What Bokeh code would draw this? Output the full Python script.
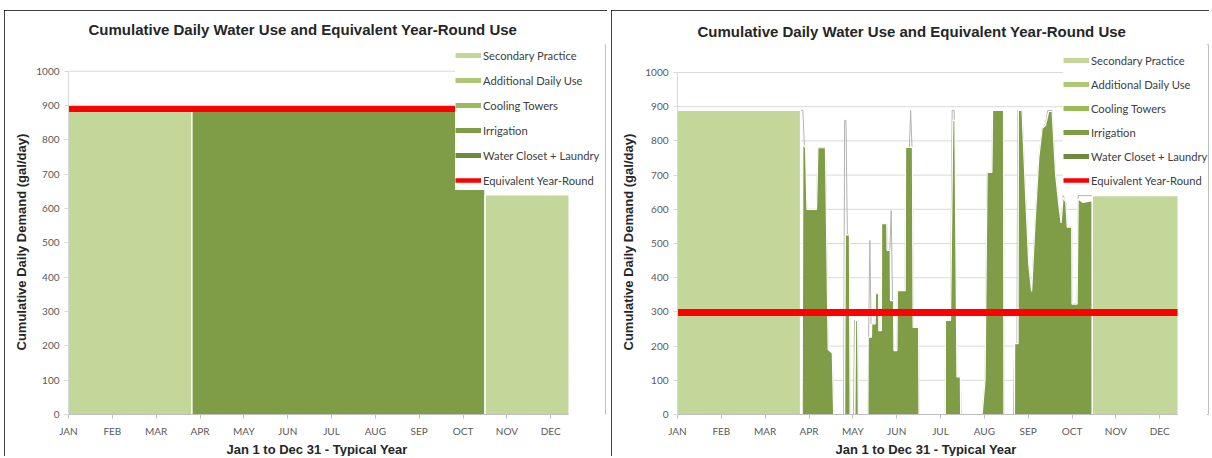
import numpy as np
from bokeh.plotting import figure
from bokeh.layouts import row
from bokeh.models import Range1d, FixedTicker, Legend, LegendItem, Title
from bokeh.embed import file_html
from bokeh.resources import INLINE

TITLE = "Cumulative Daily Water Use and Equivalent Year-Round Use"
X_TITLE = "Jan 1 to Dec 31 - Typical Year"
Y_TITLE = "Cumulative Daily Demand (gal/day)"

MONTHS = ["JAN", "FEB", "MAR", "APR", "MAY", "JUN", "JUL", "AUG", "SEP", "OCT", "NOV", "DEC"]
MONTH_LABEL_DAYS = [0, 32, 64, 96, 128, 160, 192, 224, 256, 288, 320, 352]
Y_TICKS = [0, 100, 200, 300, 400, 500, 600, 700, 800, 900, 1000]
DAYS_IN_YEAR = 365
Y_MAX = 1000

SERIES = ["Secondary Practice", "Additional Daily Use", "Cooling Towers",
          "Irrigation", "Water Closet + Laundry", "Equivalent Year-Round"]
SERIES_COLORS = ["#c4d79b", "#adc774", "#9bbb59", "#7f9d46", "#6e8a3d", "#ff0000"]

# ---------------- left chart: (day, gal/day) vertices ----------------
left_secondary = [(0, 889), (90, 889), (90, 0), (304, 0), (304, 640), (365, 640)]
left_additional = [(0, 0), (365, 0)]
left_cooling = [(0, 0), (365, 0)]
left_irrigation = [(90, 0), (90, 889), (304, 889), (304, 0)]
left_closet = [(0, 0), (365, 0)]
left_equivalent = 890

# ---------------- right chart: (day, gal/day) vertices ----------------
right_secondary = [(0, 889), (89.8, 889), (89.8, 0), (302.8, 0), (302.8, 640), (365, 640)]
right_additional = [(0, 0), (365, 0)]
right_cooling = [(0, 0), (365, 0)]
right_irrigation = [
    (91, 0), (91.5, 790), (93.5, 780), (94.5, 600), (101.5, 600), (102.5, 780), (108, 780),
    (110, 190), (113, 180), (114, 0),
    (122, 0), (122.5, 525), (125.5, 525), (126, 0),
    (129.5, 0), (130, 275), (131.5, 275), (132, 0),
    (139, 0), (139.2, 226), (141.6, 226), (141.8, 265), (144.3, 265), (144.5, 353), (146.8, 353),
    (147, 245), (148.8, 245), (149, 558), (152.8, 558), (153, 480), (155.3, 480), (155.5, 333),
    (157.7, 333), (158, 187), (160.2, 187), (160.5, 362), (166.2, 362), (166.5, 781), (171.5, 781),
    (172, 255), (176, 255), (176.3, 0),
    (195.5, 0), (195.6, 275), (199.3, 275), (201, 860), (202.5, 860), (204, 110), (206.5, 110), (206.7, 0),
    (222.4, 0), (224.5, 100), (226, 708), (229.5, 708), (230, 889), (238, 889), (238.3, 0),
    (246, 0), (246.1, 207), (248.6, 207), (248.8, 889), (251.5, 889), (254, 653), (256.4, 440),
    (258.5, 360), (261, 560), (263.7, 749), (266.2, 837), (268.6, 845), (271, 886), (273.5, 886),
    (276, 703), (278.3, 615), (280, 560), (281.5, 635), (283.5, 620), (284.5, 548), (287.8, 548),
    (288, 323), (291.7, 323), (292.5, 630), (296, 620), (302.7, 625), (302.8, 0),
]
right_closet = [(0, 0), (365, 0)]
right_outline = [
    (89.8, 889), (91.5, 889), (92.5, 800), (94.5, 600), (101.5, 600), (102.5, 780), (108, 780),
    (110, 190), (113, 180), (114, 0),
    (121.3, 0), (122, 860), (123, 860), (124, 525), (125.5, 525), (126, 0),
    (128.5, 0), (129.2, 275), (131.5, 275), (132, 0),
    (139, 0), (139.5, 226), (140.4, 509), (141.3, 265), (144.3, 265), (144.5, 353), (146.8, 353),
    (147, 245), (148.8, 245), (149, 558), (152.8, 558), (153, 480), (155, 480), (156, 596),
    (157.5, 187), (160.2, 187), (160.5, 362), (166.2, 362), (166.5, 781), (169.3, 781),
    (170.2, 889), (171.2, 781), (171.5, 781), (172, 255), (176, 255), (176.3, 0),
    (195.5, 0), (195.6, 275), (199.3, 275), (200.5, 889), (202, 889), (203.5, 300), (204, 110),
    (206.5, 110), (207, 0),
    (222.4, 0), (224.5, 100), (226, 708), (229.5, 708), (230, 889), (238, 889), (238.3, 0),
    (245.3, 0), (246.1, 207), (247.8, 207), (248.4, 889), (251.5, 889), (254, 653), (256.4, 440),
    (258.5, 360), (261, 560), (263.7, 749), (266.2, 837), (268.6, 850), (270.3, 889), (273.5, 889),
    (276, 703), (278.3, 615), (280, 560), (281.5, 640), (283.5, 620), (284.5, 548), (287.8, 548),
    (288, 323), (291.7, 323), (292.5, 640), (296, 640), (302.8, 640),
]
right_equivalent = 298


def split(points):
    return [a for a, _ in points], [b for _, b in points]


def make_panel(areas, outline, equivalent, red_width, width, mb_left, mb_right, mb_top,
               plot_w, plot_h, legend_xy, legend_spacing, title_valign, ytitle_standoff):
    height = 448
    mb_bottom = 44
    frame_w = width - mb_left - mb_right
    frame_h = height - mb_top - mb_bottom
    # the frame is a bit larger than the axis box so that the legend may overlap it
    x_end = DAYS_IN_YEAR * frame_w / plot_w
    y_end = Y_MAX * frame_h / plot_h
    p = figure(width=width, height=height, x_range=Range1d(0, x_end), y_range=Range1d(0, y_end),
               output_backend="svg", toolbar_location=None,
               min_border_left=mb_left, min_border_right=mb_right,
               min_border_top=mb_top, min_border_bottom=mb_bottom)
    p.styles = {"outline": "2px solid #000000", "outline-offset": "-2px",
                "clip-path": "inset(0px 0px 2px 0px)"}
    p.background_fill_color = "white"
    p.border_fill_color = "white"
    p.outline_line_color = None

    p.title.text = TITLE
    p.title.text_font = "Liberation Sans"
    p.title.text_font_style = "bold"
    p.title.text_font_size = "15px"
    p.title.text_color = "#262626"
    p.title.align = "left"
    p.title.offset = 20
    p.title.vertical_align = title_valign

    # grid (drawn only across the axis box)
    p.xgrid.visible = False
    p.ygrid.visible = False
    p.segment(x0=[0] * len(Y_TICKS), y0=Y_TICKS, x1=[DAYS_IN_YEAR] * len(Y_TICKS), y1=Y_TICKS,
              line_color="#d9d9d9", line_width=1, level="underlay")

    # axes
    p.xaxis.ticker = FixedTicker(ticks=MONTH_LABEL_DAYS)
    p.xaxis.major_label_overrides = {d: m for d, m in zip(MONTH_LABEL_DAYS, MONTHS)}
    p.yaxis.ticker = FixedTicker(ticks=Y_TICKS)
    p.xaxis.bounds = (0, DAYS_IN_YEAR)
    p.yaxis.bounds = (0, Y_MAX)
    for ax in (p.xaxis, p.yaxis):
        ax.axis_line_color = "#bfbfbf"
        ax.major_tick_line_color = "#bfbfbf"
        ax.major_tick_out = 4
        ax.major_tick_in = 0
        ax.minor_tick_line_color = None
        ax.major_label_text_font = "Lato"
        ax.major_label_text_font_size = "10px"
        ax.major_label_text_color = "#595959"
    p.yaxis.axis_line_color = "#d9d9d9"
    p.yaxis.major_tick_line_color = "#d9d9d9"
    p.xaxis.major_label_standoff = 6
    p.yaxis.major_label_standoff = 5

    # axis titles (as side titles, positioned along the axis box)
    xt = Title(text=X_TITLE, align="left", offset=158, text_font="Liberation Sans",
               text_font_style="bold", text_font_size="13px", text_color="#262626", standoff=0)
    p.add_layout(xt, "below")
    yt = Title(text=Y_TITLE, align="left", offset=64, text_font="Liberation Sans",
               text_font_style="bold", text_font_size="13px", text_color="#262626",
               standoff=ytitle_standoff)
    p.add_layout(yt, "left")

    # grey daily outline (behind)
    if outline is not None:
        ox, oy = split(outline)
        p.line(ox, oy, line_color="#b3b3b3", line_width=1)

    # stacked areas
    order = [4, 3, 2, 1, 0]
    for i in order:
        xs, ys = split(areas[i])
        p.varea(x=xs, y1=0, y2=ys, fill_color=SERIES_COLORS[i])
    for i in order:
        xs, ys = split(areas[i])
        if max(ys) > 0:
            p.line(xs, ys, line_color="white", line_width=1.2)

    # equivalent year-round line
    p.line([0, DAYS_IN_YEAR], [equivalent, equivalent], line_color=SERIES_COLORS[5],
           line_width=red_width)

    # legend (proxy swatches)
    items = []
    for name, color in zip(SERIES, SERIES_COLORS):
        lw = 4.5 if name == "Equivalent Year-Round" else 5
        r = p.line(x=np.array([np.nan]), y=np.array([np.nan]), line_color=color, line_width=lw)
        items.append(LegendItem(label=name, renderers=[r]))
    legend = Legend(items=items, location=legend_xy, glyph_width=26, glyph_height=20,
                    label_height=20, spacing=legend_spacing, padding=5, margin=0,
                    label_standoff=2, label_text_font="Lato", label_text_font_size="11.2px",
                    label_text_color="#404040", border_line_color=None,
                    background_fill_color="white", background_fill_alpha=1.0)
    p.add_layout(legend)
    return p


left = make_panel([left_secondary, left_additional, left_cooling, left_irrigation, left_closet],
                  None, left_equivalent, 6, 603, 64, 2, 30, 500, 347, (387, 224), 5, "top", 10)
right = make_panel([right_secondary, right_additional, right_cooling, right_irrigation, right_closet],
                   right_outline, right_equivalent, 7, 598, 66, 1, 34, 500, 342, (386, 224), 4,
                   "bottom", 13)

layout = row(left, right, spacing=4, margin=(10, 0, 0, 4))
open("out.html", "w").write(file_html(layout, INLINE))
